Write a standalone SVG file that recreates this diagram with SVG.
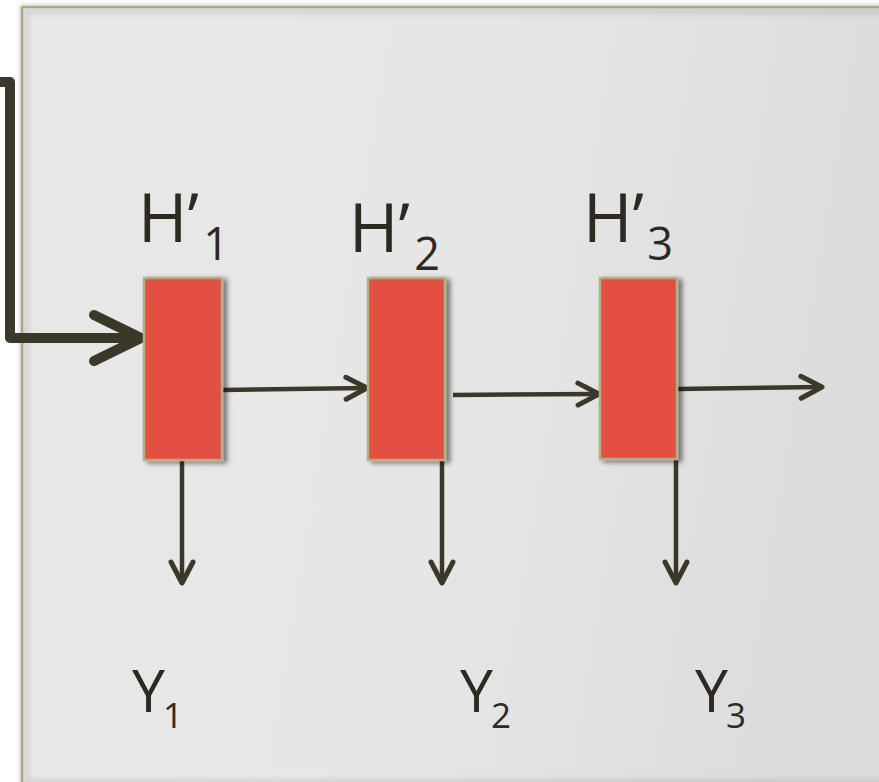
<svg xmlns="http://www.w3.org/2000/svg" width="879" height="782" viewBox="0 0 879 782">
  <defs>
    <linearGradient id="bg" x1="0" y1="0" x2="1" y2="0.15">
      <stop offset="0" stop-color="#e8e8e8"/>
      <stop offset="0.55" stop-color="#e6e6e6"/>
      <stop offset="1" stop-color="#dcdcdc"/>
    </linearGradient>
    <filter id="panelShadow" x="-5%" y="-5%" width="110%" height="110%">
      <feDropShadow dx="0" dy="0" stdDeviation="2.5" flood-color="#000" flood-opacity="0.25"/>
    </filter>
    <filter id="inner" x="-5%" y="-5%" width="110%" height="110%">
      <feGaussianBlur stdDeviation="3"/>
    </filter>
    <filter id="boxShadow" x="-30%" y="-10%" width="160%" height="120%">
      <feDropShadow dx="4" dy="2" stdDeviation="2.5" flood-color="#000" flood-opacity="0.5"/>
    </filter>
    <marker id="ah" markerUnits="userSpaceOnUse" markerWidth="30" markerHeight="30" refX="26" refY="15" orient="auto" overflow="visible">
      <path d="M5,4 L26,15 L5,26" fill="none" stroke="#3c3829" stroke-width="5" stroke-linecap="round" stroke-linejoin="round"/>
    </marker>
    <marker id="ahBig" markerUnits="userSpaceOnUse" markerWidth="60" markerHeight="60" refX="52" refY="30" orient="auto" overflow="visible">
      <path d="M5,7 L52,30 L5,53" fill="none" stroke="#3c3829" stroke-width="10" stroke-linecap="round" stroke-linejoin="round"/>
    </marker>
  </defs>
  <style>
    .box { fill: #e34f3f; stroke: #b5ad88; stroke-width: 2.5; filter: url(#boxShadow); }
    .lbl { font-family: "Open Sans", "Liberation Sans", sans-serif; fill: #2e2a22; }
    .conn { fill: none; stroke: #3c3829; stroke-width: 4.5; stroke-linecap: butt; }
    .thick { fill: none; stroke: #3c3829; stroke-width: 10; stroke-linejoin: round; stroke-linecap: butt; }
  </style>

  <rect x="0" y="0" width="879" height="782" fill="#ffffff"/>

  <g id="panel">
    <rect x="22" y="7" width="880" height="790" fill="url(#bg)" stroke="#b5ad88" stroke-width="2.5" filter="url(#panelShadow)"/>
    <rect x="26" y="11" width="880" height="771" fill="none" stroke="#000" stroke-opacity="0.12" stroke-width="5" filter="url(#inner)"/>
  </g>

  <g id="connectors">
    <path class="thick" d="M -5 82 L 10 82 L 10 338 L 141 338" marker-end="url(#ahBig)"/>
    <path class="conn" d="M 222 390 L 367 388" marker-end="url(#ah)"/>
    <path class="conn" d="M 453 395 L 599 394" marker-end="url(#ah)"/>
    <path class="conn" d="M 677 389 L 822 387" marker-end="url(#ah)"/>
    <path class="conn" d="M 182 460 L 182 583" marker-end="url(#ah)"/>
    <path class="conn" d="M 442 460 L 442 583" marker-end="url(#ah)"/>
    <path class="conn" d="M 676 460 L 676 583" marker-end="url(#ah)"/>
  </g>

  <g id="h1">
    <rect class="box" x="144" y="278" width="78" height="182"/>
    <text class="lbl" x="138" y="242" font-size="67">H’</text>
    <text class="lbl" x="216" y="260" font-size="45" text-anchor="middle">1</text>
  </g>
  <g id="h2">
    <rect class="box" x="368" y="278" width="77" height="182"/>
    <text class="lbl" x="349" y="252" font-size="67">H’</text>
    <text class="lbl" x="427" y="270" font-size="45" text-anchor="middle">2</text>
  </g>
  <g id="h3">
    <rect class="box" x="600" y="278" width="77" height="181"/>
    <text class="lbl" x="583" y="242" font-size="67">H’</text>
    <text class="lbl" x="660" y="260" font-size="45" text-anchor="middle">3</text>
  </g>

  <g id="y1">
    <text class="lbl" x="132" y="712" font-size="59">Y</text>
    <text class="lbl" x="173" y="728" font-size="35" text-anchor="middle">1</text>
  </g>
  <g id="y2">
    <text class="lbl" x="460" y="712" font-size="59">Y</text>
    <text class="lbl" x="501" y="728" font-size="35" text-anchor="middle">2</text>
  </g>
  <g id="y3">
    <text class="lbl" x="695" y="712" font-size="59">Y</text>
    <text class="lbl" x="736" y="728" font-size="35" text-anchor="middle">3</text>
  </g>
</svg>
